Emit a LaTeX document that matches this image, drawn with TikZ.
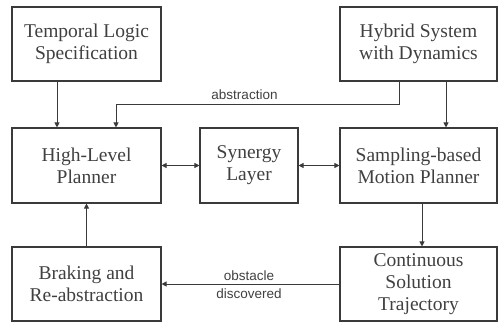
\documentclass[tikz,border=0pt]{standalone}
\usepackage{fontspec}
\newfontfamily\boxfont{Liberation Serif}
\newfontfamily\lblfont{Liberation Sans}
\usetikzlibrary{arrows.meta}
\definecolor{ln}{HTML}{3A3A3A}
\definecolor{tx}{HTML}{404040}
\tikzset{
  box/.style={draw=ln, line width=1.1pt, rectangle, inner sep=0pt, align=center,
    font=\boxfont\fontsize{19.5}{22}\selectfont, text=tx, minimum height=74pt},
  arr/.style={draw=ln, line width=1pt, -{Triangle[length=5pt,width=5pt]}},
  darr/.style={draw=ln, line width=1pt, {Triangle[length=5pt,width=5pt]}-{Triangle[length=5pt,width=5pt]}},
  lbl/.style={font=\lblfont\fontsize{13.5}{15}\selectfont, text=tx, inner sep=0pt}
}
\begin{document}
\begin{tikzpicture}[x=1pt,y=1pt]
\useasboundingbox (0,0) rectangle (498,322);
\node[box, minimum width=149pt] (tl) at (86.5,278) {Temporal Logic\\Specification};
\node[box, minimum width=157pt] (hs) at (418.5,278) {Hybrid System\\with Dynamics};
\node[box, minimum width=149pt, minimum height=75pt] (hl) at (86.5,156.5) {High-Level\\Planner};
\node[box, minimum width=98pt, minimum height=75pt] (sy) at (249,156.5) {Synergy\\Layer};
\node[box, minimum width=157pt, minimum height=75pt] (sm) at (418.5,156.5) {Sampling-based\\Motion Planner};
\node[box, minimum width=149pt] (br) at (86.5,38) {Braking and\\Re-abstraction};
\node[box, minimum width=157pt] (cs) at (418.5,38) {Continuous\\Solution\\Trajectory};
\draw[arr] ([xshift=-29.5pt]tl.south) -- ([xshift=-29.5pt]hl.north);
\draw[arr] ([xshift=-19.5pt]hs.south) -- ++(0,-23) -| ([xshift=29.5pt]hl.north);
\node[lbl] (abs) at (244.5,227) {abstraction};
\draw[arr] ([xshift=27.5pt]hs.south) -- ([xshift=27.5pt]sm.north);
\draw[darr] (hl.east) -- (sy.west);
\draw[darr] (sy.east) -- (sm.west);
\draw[arr] ([xshift=3.5pt]sm.south) -- ([xshift=3.5pt]cs.north);
\draw[arr] (cs.west) -- (br.west -| br.east);
\node[lbl] (ob) at (249,46.5) {obstacle};
\node[lbl] (di) at (249,28.5) {discovered};
\draw[arr] (br.north) -- (hl.south);
\end{tikzpicture}
\end{document}
